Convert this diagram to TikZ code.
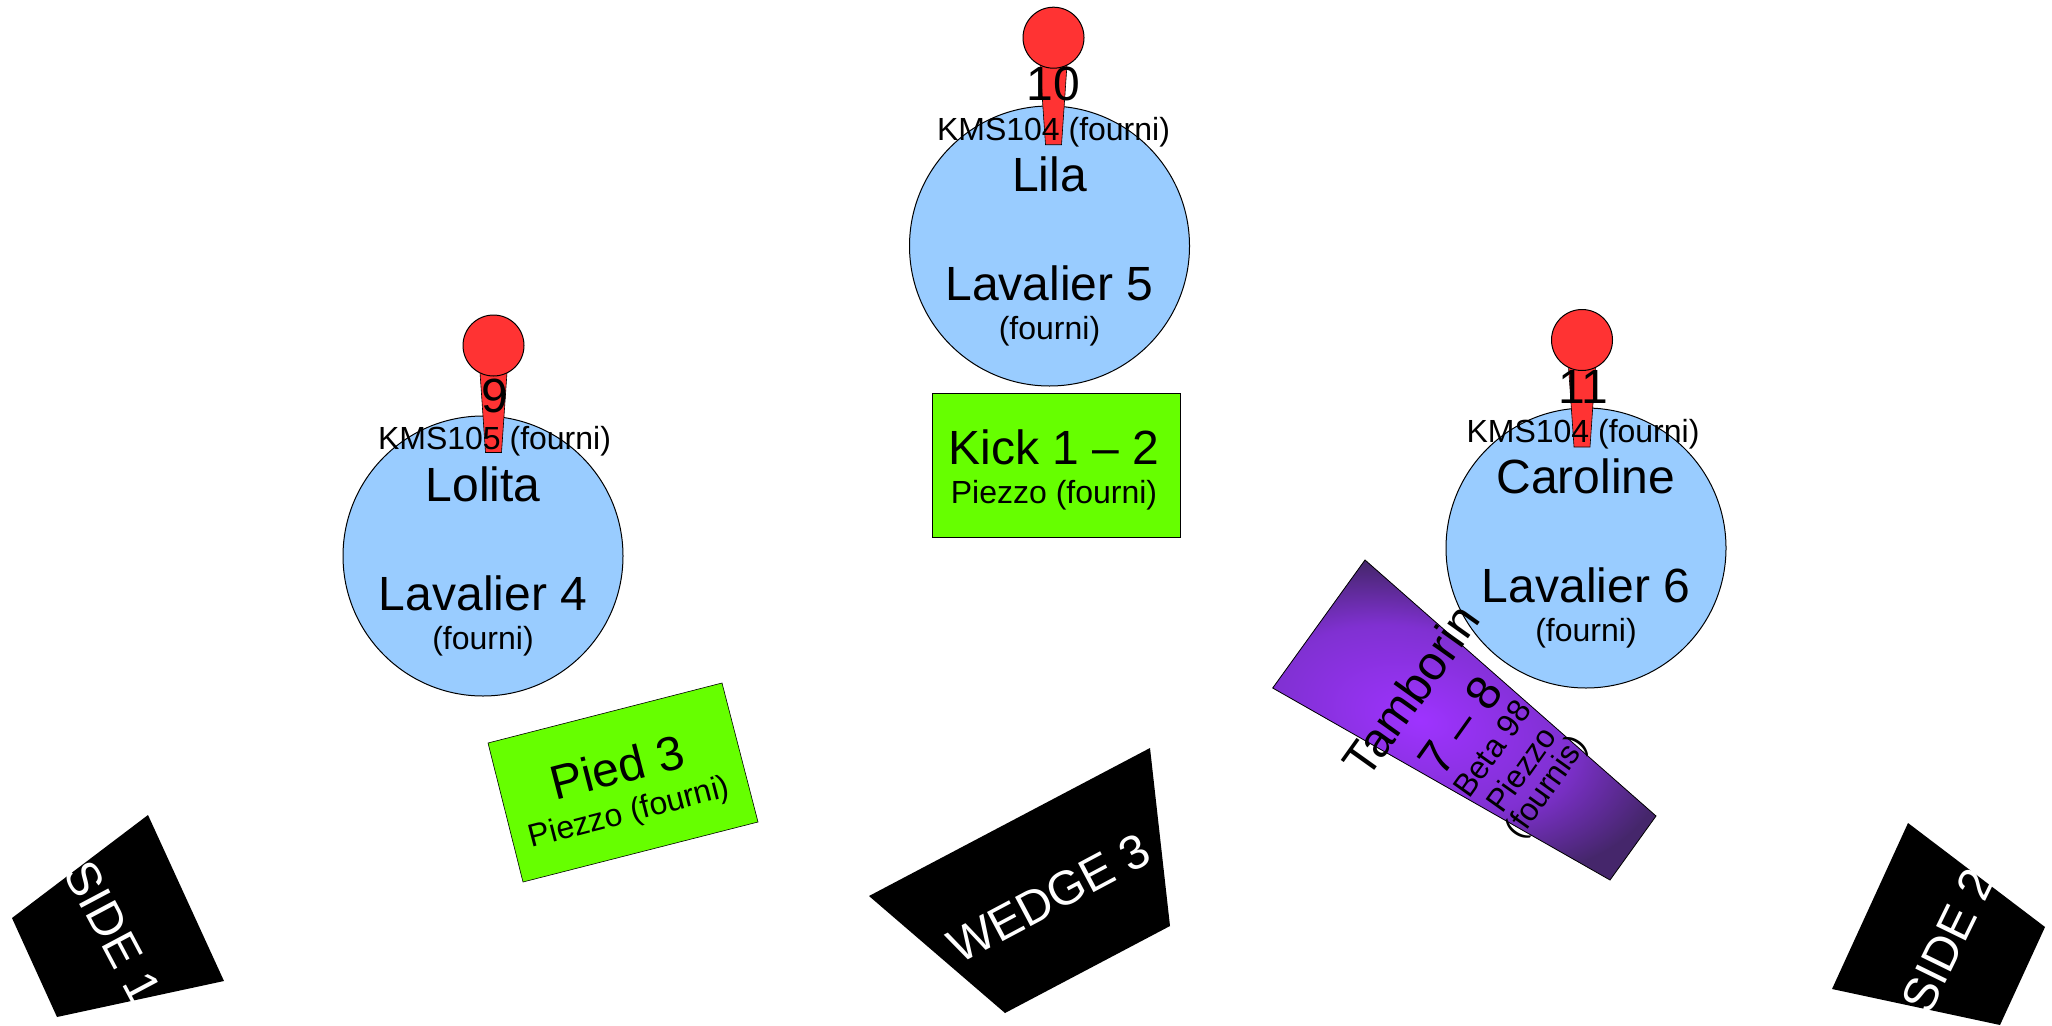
\documentclass[tikz,border=0pt]{standalone}
\usepackage{fontspec}
\setmainfont{Liberation Sans}
\newcommand{\fsa}{\fontsize{48}{37}\selectfont}
\newcommand{\fsb}{\fontsize{32}{37}\selectfont}
\tikzset{
  x=1pt,y=-1pt,
  singer/.style={circle,draw=black,line width=1pt,fill=circfill,minimum size=280pt,inner sep=0pt},
  mictext/.style={align=center,inner sep=0pt,text=black},
  head/.style={circle,draw=black,line width=1pt,fill=micred,minimum size=61pt,inner sep=0pt},
  handle/.style={draw=black,line width=.6pt,fill=micred},
  greenbox/.style={draw=black,line width=.6pt,fill=boxgreen},
  wedge/.style={fill=black},
  wtext/.style={text=white,inner sep=0pt,font=\fsa},
  btext/.style={text=black,inner sep=0pt,align=center}
}
\definecolor{circfill}{HTML}{99CCFF}
\definecolor{micred}{HTML}{FF3333}
\definecolor{boxgreen}{HTML}{66FF00}
\definecolor{purpedge}{rgb}{.27,.15,.42}
\pgfdeclareradialshading{purprad}{\pgfpointorigin}{rgb(0bp)=(.62,.2,1); rgb(15bp)=(.5,.19,.82); rgb(25bp)=(.27,.15,.42); rgb(50bp)=(.27,.15,.42)}
\newcommand{\micro}[6]{% name, x, y, text x-offset, text y-offset, label
  \path[handle] (#2-13.5,#3+27) -- (#2+13.5,#3+27) -- (#2+8,#3+107) -- (#2-8,#3+107) -- cycle;
  \node[head] (#1) at (#2,#3) {};
  \node[mictext] (#1t) at (#2+#4,#3+#5) {\fsa #6};
}
\newcommand{\singerlabel}[2]{\rule{0pt}{46.5pt}\fsa #1\\[72pt]\fsa #2\\[15pt]\fsb (fourni)}
\begin{document}
\begin{tikzpicture}
\useasboundingbox (0,0) rectangle (2052,1025);
\fill[white] (0,0) rectangle (2052,1025);
% singers
\node[singer,label={[btext,name=lilat]center:\singerlabel{Lila}{Lavalier 5}}] (lila) at (1049.5,246) {};
\node[singer,label={[btext,name=lolitat]center:\singerlabel{Lolita}{Lavalier 4}}] (lolita) at (483,556) {};
\node[singer,label={[btext,name=carolinet]center:\singerlabel{Caroline}{Lavalier 6}}] (caroline) at (1586,548) {};
% microphones
\micro{micA}{1053.5}{37.7}{0}{69}{10\\[15.5pt]\fsb KMS104 (fourni)}
\micro{micB}{493.5}{345.5}{1}{72}{9\\[13pt]\fsb KMS105 (fourni)}
\micro{micC}{1582}{340}{1}{70}{11\\[15pt]\fsb KMS104 (fourni)}
% boxes
\draw[greenbox] (932,393) rectangle (1180,537);
\node[btext] (kick) at (1054,470) {\fsa Kick 1 – 2\\[15pt]\fsb Piezzo (fourni)};
\draw[greenbox] (488,743) -- (722,683) -- (758,822) -- (523,882) -- cycle;
\node[btext,rotate=14.5] (pied) at (623,789) {\fsa Pied 3\\[15pt]\fsb Piezzo (fourni)};
% tambourine
\begin{scope}
\clip (1365,560) -- (1272.7,688) -- (1610,880) -- (1656,816) -- cycle;
\fill[purpedge] (1250,540) rectangle (1680,900);
\shade[shading=purprad,transform canvas={rotate around={-15:(1420,720)}}] (1420,720) ellipse [x radius=250,y radius=150];
\end{scope}
\draw[black,line width=.8pt] (1365,560) -- (1272.7,688) -- (1610,880) -- (1656,816) -- cycle;
\node[btext,rotate=54.5] (tamb) at (1478,738.5) {\fsa Tamborin\\[25pt]\fsa 7 – 8\\[10pt]\fsb Beta 98\\[11pt]\fsb Piezzo\\[5pt]\fsb (fournis)};
% wedges
\fill[wedge] (1150,748) -- (869,896) -- (1005,1013) -- (1170,926) -- cycle;
\node[wtext,rotate=28] (w3) at (1049,898) {WEDGE 3};
\fill[wedge] (148,815) -- (12,918) -- (57,1017) -- (224,981) -- cycle;
\node[wtext,rotate=-62] (s1) at (113,932) {SIDE 1};
\fill[wedge] (1908,823) -- (1832,989) -- (2000,1025) -- (2045,927) -- cycle;
\node[wtext,rotate=64] (s2) at (1948,941) {SIDE 2};
\end{tikzpicture}
\end{document}
